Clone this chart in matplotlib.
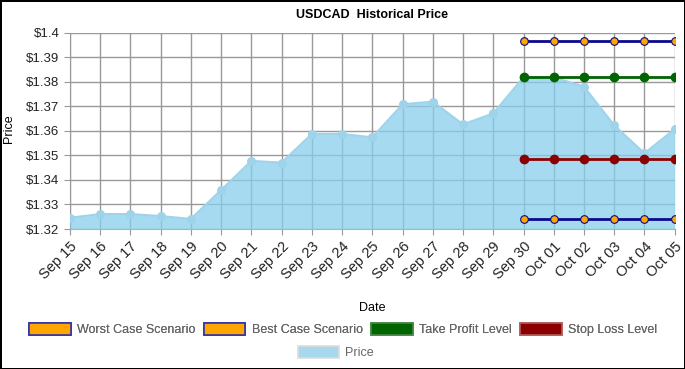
import matplotlib.pyplot as plt
from matplotlib.patches import Rectangle

dates = ["Sep 15", "Sep 16", "Sep 17", "Sep 18", "Sep 19", "Sep 20", "Sep 21",
         "Sep 22", "Sep 23", "Sep 24", "Sep 25", "Sep 26", "Sep 27", "Sep 28",
         "Sep 29", "Sep 30", "Oct 01", "Oct 02", "Oct 03", "Oct 04", "Oct 05"]
price = [1.3246, 1.3261, 1.3261, 1.3253, 1.3241, 1.3359, 1.3478,
         1.3471, 1.3588, 1.3588, 1.3574, 1.3709, 1.3720, 1.3627,
         1.3672, 1.3819, 1.3819, 1.3781, 1.3623, 1.3509, 1.3608]

# forecast levels, drawn from Sep 30 onwards
level_start = 15
best_case = 1.3969
take_profit = 1.3819
stop_loss = 1.3487
worst_case = 1.3241

yticks = [1.32, 1.33, 1.34, 1.35, 1.36, 1.37, 1.38, 1.39, 1.40]
ytick_labels = ["$1.32", "$1.33", "$1.34", "$1.35", "$1.36", "$1.37", "$1.38", "$1.39", "$1.4"]

plt.rcParams['font.family'] = ['Liberation Sans', 'DejaVu Sans']

fig = plt.figure(figsize=(6.85, 3.69), dpi=100)
fig.patch.set_edgecolor("black")
fig.patch.set_linewidth(2)
ax = fig.add_axes([0.102, 0.3794, 0.883, 0.5312])

x = list(range(len(dates)))
ax.fill_between(x, 1.30, price, color="#87CEEB", alpha=0.75, zorder=3, linewidth=0)
ax.plot(x, price, color="#9fd3ea", lw=1.5, zorder=4)
ax.scatter(x, price, s=30, color="#9fd3ea", zorder=4)

lx = x[level_start:]
n = len(lx)
ax.plot(lx, [best_case] * n, color="#0a0a8a", lw=2, marker="o", ms=5.5,
        mfc="#ffa500", mec="#0a0a8a", mew=0.8, zorder=5)
ax.plot(lx, [worst_case] * n, color="#0a0a8a", lw=2, marker="o", ms=5.5,
        mfc="#ffa500", mec="#0a0a8a", mew=0.8, zorder=5)
ax.plot(lx, [take_profit] * n, color="#006400", lw=2, marker="o", ms=6,
        mfc="#006400", mec="#006400", zorder=5)
ax.plot(lx, [stop_loss] * n, color="#8b0000", lw=2, marker="o", ms=6,
        mfc="#8b0000", mec="#8b0000", zorder=5)

ax.set_xlim(0, len(dates) - 1)
ax.set_ylim(1.32, 1.40)
ax.set_xticks(x)
ax.set_xticklabels(dates, rotation=45, ha="right", rotation_mode="anchor", fontsize=10.5, color="#222222")
ax.set_yticks(yticks)
ax.set_yticklabels(ytick_labels, fontsize=9.5, color="#222222")
ax.grid(True, color="#999999", lw=1, zorder=6)
ax.set_axisbelow(False)
ax.tick_params(length=4, color="#999999")
for s in ax.spines.values():
    s.set_visible(False)
ax.spines["left"].set_visible(True)
ax.spines["left"].set_color("#999999")
ax.spines["bottom"].set_visible(True)
ax.spines["bottom"].set_color("#999999")

ax.set_title("USDCAD  Historical Price", fontsize=9, fontweight="bold", pad=11)
ax.set_xlabel("Date", fontsize=9, labelpad=14)
fig.text(0.005, 0.65, "Price", rotation=90, fontsize=9, va="center", ha="left")

h1 = [Rectangle((0, 0), 1, 1, fc="#ffa500", ec="#3333aa", lw=1.2),
      Rectangle((0, 0), 1, 1, fc="#ffa500", ec="#3333aa", lw=1.2),
      Rectangle((0, 0), 1, 1, fc="#006400", ec="#4a8a4a", lw=1.2),
      Rectangle((0, 0), 1, 1, fc="#8b0000", ec="#b06060", lw=1.2)]
l1 = ["Worst Case Scenario", "Best Case Scenario", "Take Profit Level", "Stop Loss Level"]
leg1 = fig.legend(h1, l1, loc="center", bbox_to_anchor=(0.501, 0.108), ncol=4, frameon=False,
                  fontsize=9, handlelength=3.3, handleheight=1.1, handletextpad=0.5,
                  columnspacing=0.7, labelcolor="#666666")
h2 = [Rectangle((0, 0), 1, 1, fc="#a6d8ee", ec="#dddddd", lw=1.2)]
fig.legend(h2, ["Price"], loc="center", bbox_to_anchor=(0.49, 0.045), frameon=False,
           fontsize=9, handlelength=3.3, handleheight=1.1, handletextpad=0.5,
           labelcolor="#666666")
fig.add_artist(leg1)

fig.savefig("out.png", dpi=100, edgecolor=fig.get_edgecolor())
